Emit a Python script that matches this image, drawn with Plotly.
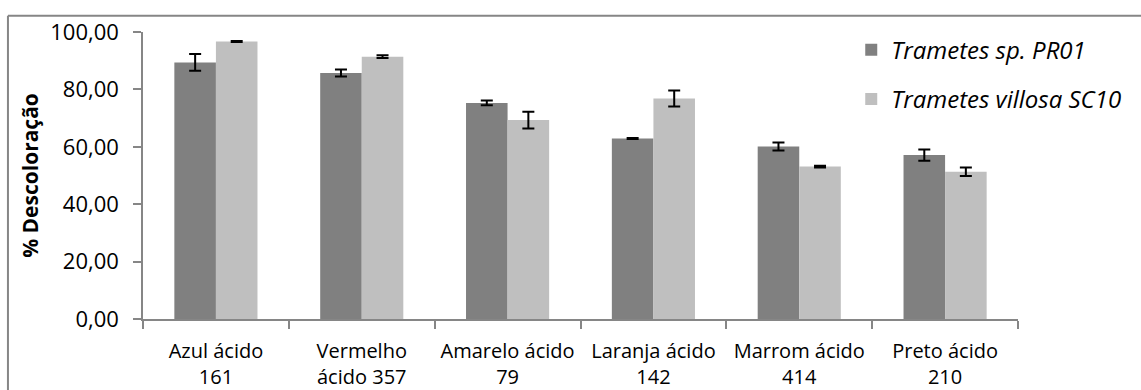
import plotly.graph_objects as go

categories = ["Azul ácido<br>161", "Vermelho<br>ácido 357", "Amarelo ácido<br>79",
              "Laranja ácido<br>142", "Marrom ácido<br>414", "Preto ácido<br>210"]
series_names = ["Trametes sp. PR01", "Trametes villosa SC10"]
pr01_values = [89.4, 85.7, 75.3, 62.9, 60.1, 57.1]
pr01_errors = [2.9, 1.2, 0.8, 0.2, 1.4, 2.0]
sc10_values = [96.7, 91.4, 69.3, 76.8, 53.1, 51.3]
sc10_errors = [0.2, 0.5, 2.9, 2.8, 0.3, 1.5]
y_ticks = [0, 20, 40, 60, 80, 100]

FONT = "Open Sans"
W, H = 1141, 390
L, R, T, B = 143, 1017.7, 32.3, 319.3

fig = go.Figure()
fig.add_trace(go.Bar(
    x=categories, y=pr01_values, name=series_names[0], legendgroup="a",
    marker=dict(color="#808080", line=dict(width=0)),
    error_y=dict(type="data", array=pr01_errors, color="black", thickness=2, width=6),
))
fig.add_trace(go.Bar(
    x=categories, y=sc10_values, name=series_names[1], legendgroup="b",
    marker=dict(color="#BFBFBF", line=dict(width=0)),
    error_y=dict(type="data", array=sc10_errors, color="black", thickness=2, width=6),
))

pw = R - L
ph = B - T
def px(x):
    return (x - L) / pw
def py(y):
    return (B - y) / ph

fig.update_layout(
    width=W, height=H,
    margin=dict(l=L, r=W - R, t=T, b=H - B, pad=0, autoexpand=False),
    plot_bgcolor="white", paper_bgcolor="white",
    barmode="group", bargap=0.43, bargroupgap=0,
    separators=",.",
    font=dict(family=FONT, size=21, color="black"),
    legend=dict(x=px(851), y=py(28), xanchor="left", yanchor="top",
                font=dict(family=FONT, size=24, style="italic"),
                traceorder="grouped", tracegroupgap=15,
                bgcolor="rgba(0,0,0,0)"),
    xaxis=dict(type="category", showline=True, linecolor="#868686", linewidth=1.5,
               ticks="outside", tickson="boundaries", ticklen=8, tickcolor="#868686",
               tickwidth=1.5, tickfont=dict(family=FONT, size=20), showgrid=False,
               automargin=False, tickangle=0, ticklabelstandoff=13),
    yaxis=dict(range=[0, 100], tickvals=y_ticks, tickformat=".2f", showline=True,
               linecolor="#868686", linewidth=1.5, ticks="outside", ticklen=8,
               tickcolor="#868686", tickwidth=1.5, showgrid=False, zeroline=False,
               tickfont=dict(family=FONT, size=22), ticklabelstandoff=10, automargin=False,
               title=dict(text="<b>% Descoloração</b>", font=dict(family=FONT, size=21),
                          standoff=6)),
    shapes=[
        dict(type="line", xref="paper", yref="paper", x0=px(8), x1=px(8), y0=py(400), y1=py(16),
             line=dict(color="#868686", width=2)),
        dict(type="line", xref="paper", yref="paper", x0=px(8), x1=px(1150), y0=py(16), y1=py(16),
             line=dict(color="#868686", width=2)),
    ],
)

fig.write_html("out.html", config={"displayModeBar": False},
               post_script="document.body.style.margin='0';document.body.style.overflow='hidden';")
